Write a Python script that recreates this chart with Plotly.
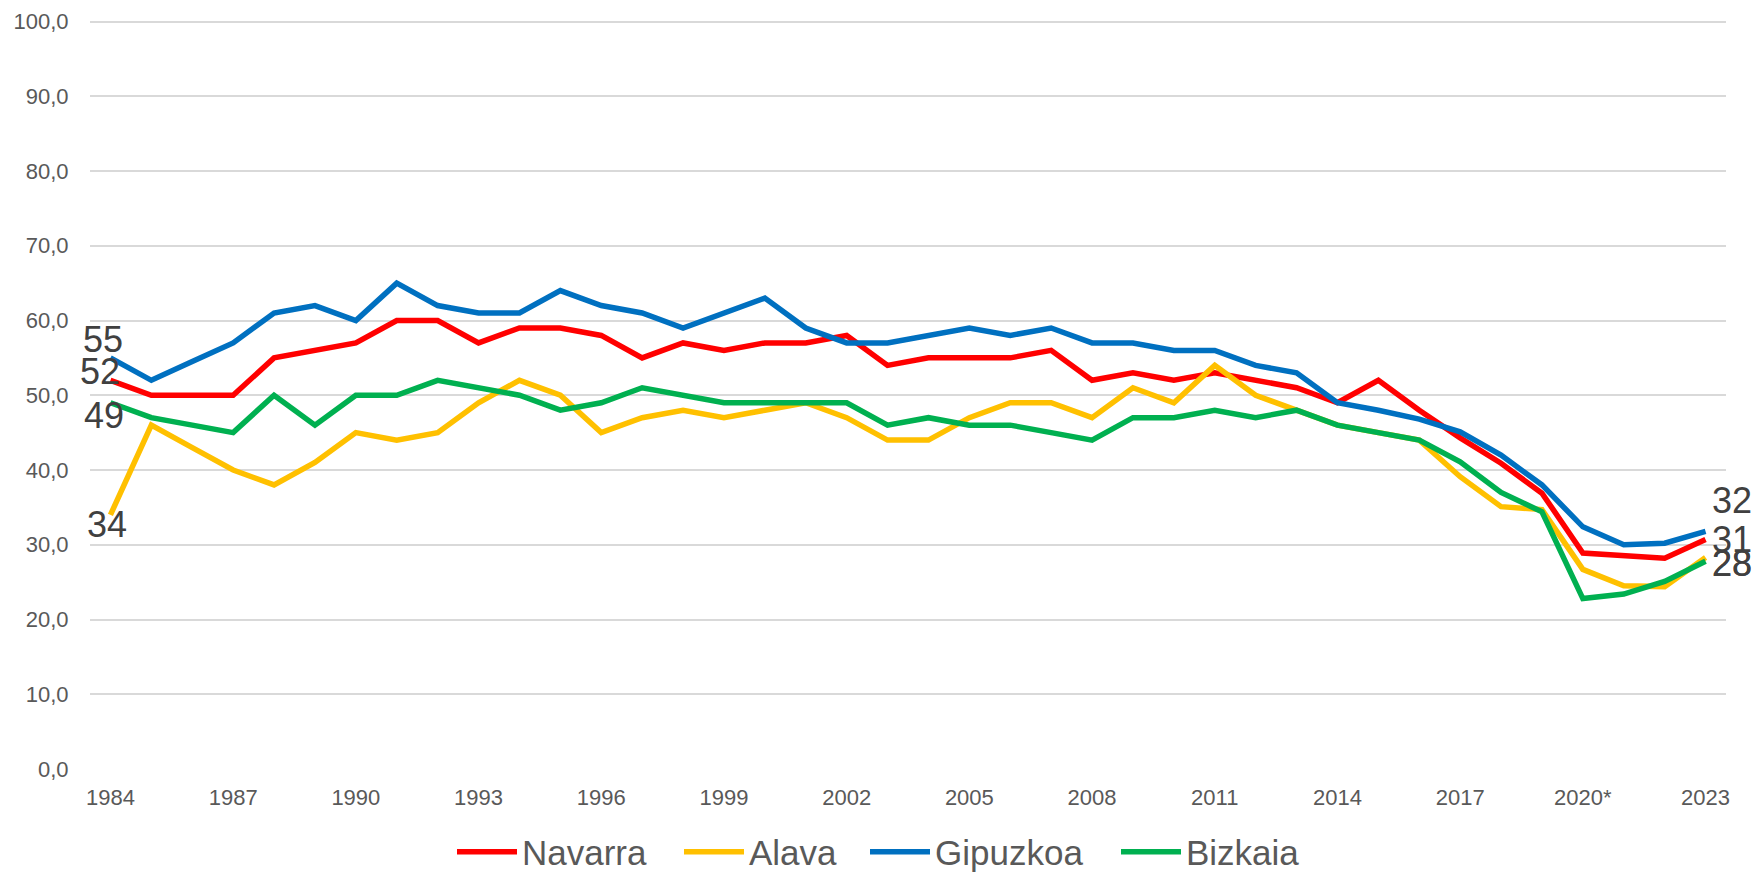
import plotly.graph_objects as go

years = [str(y) for y in range(1984, 2024)]
categories = [y if y != "2020" else "2020*" for y in years]

navarra = [52, 50, 50, 50, 55, 56, 57, 60, 60, 57, 59, 59, 58, 55, 57, 56, 57, 57, 58, 54,
           55, 55, 55, 56, 52, 53, 52, 53, 52, 51, 49, 52, 48, 44.3, 40.9, 36.9, 28.9, 28.6, 28.2, 30.7]
alava = [34, 46, 43, 40, 38, 41, 45, 44, 45, 49, 52, 50, 45, 47, 48, 47, 48, 49, 47, 44,
         44, 47, 49, 49, 47, 51, 49, 54, 50, 48, 46, 45, 44, 39.1, 35.1, 34.7, 26.7, 24.5, 24.4, 28.3]
gipuzkoa = [55, 52, 54.5, 57, 61, 62, 60, 65, 62, 61, 61, 64, 62, 61, 59, 61, 63, 59, 57, 57,
            58, 59, 58, 59, 57, 57, 56, 56, 54, 53, 49, 48, 46.8, 45.1, 42, 38, 32.4, 30, 30.2, 31.8]
bizkaia = [49, 47, 46, 45, 50, 46, 50, 50, 52, 51, 50, 48, 49, 51, 50, 49, 49, 49, 49, 46,
           47, 46, 46, 45, 44, 47, 47, 48, 47, 48, 46, 45, 44, 41.1, 37, 34.4, 22.8, 23.4, 25.1, 27.8]

series = [
    ("Navarra", navarra, "#FF0000"),
    ("Alava", alava, "#FFC000"),
    ("Gipuzkoa", gipuzkoa, "#0070C0"),
    ("Bizkaia", bizkaia, "#00B050"),
]

y_ticks = list(range(0, 101, 10))
y_tick_text = [f"{v},0" for v in y_ticks]

FONT = "Liberation Sans, Arial, sans-serif"
W, H = 1758, 875
legend_left_px = [452, 679, 865, 1116]

fig = go.Figure()
legend_ids = ["legend", "legend2", "legend3", "legend4"]
for (name, vals, color), lid in zip(series, legend_ids):
    fig.add_trace(go.Scatter(x=list(range(len(categories))), y=vals, name=name, mode="lines",
                             line=dict(color=color, width=5.5), legend=lid))

# first/last data labels: (series index, point index, xshift, yshift)
label_spec = [
    (2, 0, -7, 18), (0, 0, -10, 9), (3, 0, -6, -13), (1, 0, -3, -10),
    (2, -1, 26, 31), (0, -1, 26, 0), (1, -1, 26, -6), (3, -1, 26, -2),
]
for si, pi, xs, ys in label_spec:
    name, vals, color = series[si]
    idx = pi % len(categories)
    fig.add_annotation(x=idx, y=vals[idx], xref="x", yref="y", text=str(int(round(vals[idx]))),
                       showarrow=False, xshift=xs, yshift=ys,
                       font=dict(family=FONT, size=36, color="#404040"))

legend_style = dict(orientation="h", xanchor="left", xref="container",
                    y=1 - 852 / H, yanchor="middle", yref="container",
                    font=dict(family=FONT, size=35, color="#595959"),
                    itemwidth=60, bgcolor="rgba(0,0,0,0)", borderwidth=0)
legends = {lid: dict(legend_style, x=px / W) for lid, px in zip(legend_ids, legend_left_px)}

fig.update_layout(
    width=W, height=H,
    margin=dict(l=90, r=32, t=20, b=106),
    paper_bgcolor="white", plot_bgcolor="white",
    font=dict(family=FONT, color="#595959"),
    showlegend=True,
    **legends,
    xaxis=dict(range=[-0.5, len(categories) - 0.5], automargin=False,
               tickmode="array", tickvals=list(range(len(categories)))[::3],
               ticktext=categories[::3],
               tickfont=dict(family=FONT, size=22, color="#595959"),
               ticks="outside", ticklen=9, tickcolor="rgba(0,0,0,0)",
               showgrid=False, showline=False, zeroline=False),
    yaxis=dict(range=[0, 100.2], automargin=False,
               tickmode="array", tickvals=y_ticks, ticktext=y_tick_text,
               tickfont=dict(family=FONT, size=22, color="#595959"),
               ticks="outside", ticklen=16, tickcolor="rgba(0,0,0,0)",
               showgrid=True, gridcolor="#D9D9D9", gridwidth=1.5,
               showline=False, zeroline=False),
)

fig.write_html("out.html", config={"displayModeBar": False},
               post_script="document.body.style.margin='0';document.body.style.overflow='hidden';")
